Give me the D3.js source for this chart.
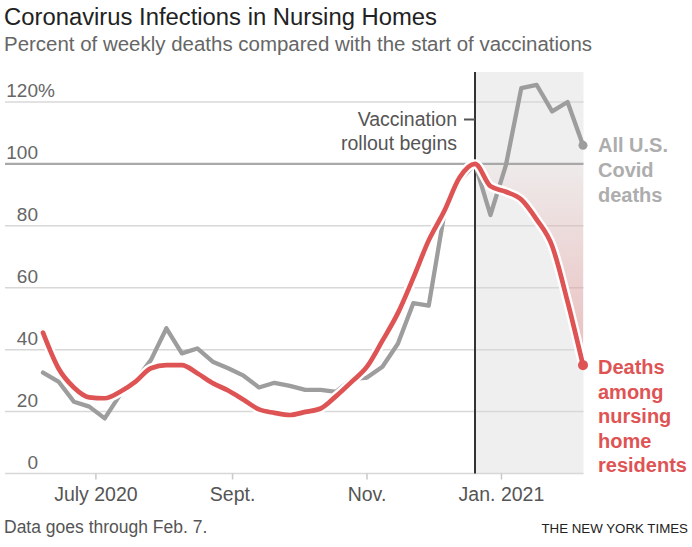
<!DOCTYPE html>
<html>
<head>
<meta charset="utf-8">
<script src="https://cdn.jsdelivr.net/npm/d3@7"></script>
<style>
  body { margin: 0; background: #fff; }
  svg { display: block; font-family: "Liberation Sans", Arial, Helvetica, sans-serif; }
</style>
</head>
<body>
<svg width="692" height="547"></svg>
<script>
// weekly data, percent of the week vaccinations started (Dec. 20 = 100)
const weeks = [
  "2020-06-07", "2020-06-14", "2020-06-21", "2020-06-28", "2020-07-05", "2020-07-12",
  "2020-07-19", "2020-07-26", "2020-08-02", "2020-08-09", "2020-08-16", "2020-08-23",
  "2020-08-30", "2020-09-06", "2020-09-13", "2020-09-20", "2020-09-27", "2020-10-04",
  "2020-10-11", "2020-10-18", "2020-10-25", "2020-11-01", "2020-11-08", "2020-11-15",
  "2020-11-22", "2020-11-29", "2020-12-06", "2020-12-13", "2020-12-20", "2020-12-27",
  "2021-01-03", "2021-01-10", "2021-01-17", "2021-01-24", "2021-01-31", "2021-02-07"
];
const allDeaths = [
  32.6, 29.7, 23.2, 21.6, 17.8, 25.5, 30, 36.7, 46.9, 38.8, 40.4, 36.1,
  34, 31.6, 27.8, 29.3, 28.3, 27, 27, 26.4, 30.5, 31, 34.5, 41.9,
  55, 54.2, 83.7, 94.6, 100, 83.5, 99.5, 124.5, 125.5, 117, 120, 106
];
const nursingDeaths = [
  45.5, 34, 27.8, 24.6, 24.3, 26.4, 29.7, 34, 35, 35, 32.4, 29.2,
  26.8, 23.8, 20.7, 19.6, 18.9, 19.9, 21, 25, 29.6, 34.5, 42.9, 51.8,
  63.2, 75.3, 84.7, 95.6, 100, 92.8, 91, 88.5, 82, 73.5, 55.5, 35
];
const yTicks = [0, 20, 40, 60, 80, 100, 120];
const xTicks = ["2020-07-01", "2020-09-01", "2020-11-01", "2021-01-01"];
const xTickLabels = ["July 2020", "Sept.", "Nov.", "Jan. 2021"];
const vaccineStart = "2020-12-20";
const allLabel = ["All U.S.", "Covid", "deaths"];
const nursingLabel = ["Deaths", "among", "nursing", "home", "residents"];

const parse = d3.timeParse("%Y-%m-%d");
const data = weeks.map((w, i) => ({date: parse(w), all: allDeaths[i], nursing: nursingDeaths[i]}));
const vDate = parse(vaccineStart);

const red = "#de5454", grey = "#9d9d9d";
const left = 5, right = 583.5;

const svg = d3.select("svg");

const x = d3.scaleTime()
  .domain(d3.extent(data, d => d.date))
  .range([43, 583]);
const y = d3.scaleLinear()
  .domain([0, 120])
  .range([473.5, 102]);

// title
svg.append("text")
  .attr("x", 4).attr("y", 25)
  .attr("font-size", "23.5px").attr("fill", "#222")
  .attr("textLength", 433).attr("lengthAdjust", "spacingAndGlyphs")
  .text("Coronavirus Infections in Nursing Homes");
svg.append("text")
  .attr("x", 4).attr("y", 51)
  .attr("font-size", "19.5px").attr("fill", "#666")
  .attr("textLength", 588).attr("lengthAdjust", "spacingAndGlyphs")
  .text("Percent of weekly deaths compared with the start of vaccinations");

// shaded period after vaccinations
svg.append("rect")
  .attr("x", x(vDate)).attr("y", 72)
  .attr("width", right - x(vDate)).attr("height", y(0) - 72)
  .attr("fill", "#efefef");

// gridlines
svg.append("g").selectAll("line")
  .data(yTicks)
  .join("line")
  .attr("x1", left).attr("x2", right)
  .attr("y1", d => y(d)).attr("y2", d => y(d))
  .attr("stroke", d => d === 100 ? "#a9a9a9" : "#d8d8d8")
  .attr("stroke-width", d => d === 100 ? 2.2 : 1.5);

// y labels
svg.append("g").selectAll("text")
  .data(yTicks)
  .join("text")
  .attr("x", 38).attr("y", d => y(d) - 5)
  .attr("text-anchor", "end")
  .attr("font-size", "19px").attr("fill", "#666")
  .text(d => d);
svg.append("text")
  .attr("x", 38).attr("y", y(120) - 5)
  .attr("font-size", "19px").attr("fill", "#666")
  .text("%");

// x ticks
const xt = svg.append("g").selectAll("g")
  .data(xTicks.map(parse))
  .join("g")
  .attr("transform", d => `translate(${x(d)},0)`);
xt.append("line")
  .attr("y1", y(0)).attr("y2", y(0) + 6)
  .attr("stroke", "#c8c8c8").attr("stroke-width", 1.5);
xt.append("text")
  .attr("y", 501)
  .attr("text-anchor", "middle")
  .attr("font-size", "19.5px").attr("fill", "#555")
  .text((d, i) => xTickLabels[i]);

// pink area between 100 and nursing home line after vaccinations
const grad = svg.append("defs").append("linearGradient")
  .attr("id", "pink")
  .attr("gradientUnits", "userSpaceOnUse")
  .attr("x1", 0).attr("x2", 0)
  .attr("y1", y(100)).attr("y2", y(35));
grad.append("stop").attr("offset", 0).attr("stop-color", "#de5454").attr("stop-opacity", 0.03);
grad.append("stop").attr("offset", 1).attr("stop-color", "#de5454").attr("stop-opacity", 0.32);

const after = data.filter(d => d.date >= vDate);
svg.append("path")
  .datum(after)
  .attr("d", d3.area().curve(d3.curveMonotoneX).x(d => x(d.date)).y0(y(100)).y1(d => y(d.nursing)))
  .attr("fill", "url(#pink)");

// vaccination line and note
svg.append("line")
  .attr("x1", x(vDate)).attr("x2", x(vDate))
  .attr("y1", 72).attr("y2", y(0))
  .attr("stroke", "#333").attr("stroke-width", 2);
svg.append("line")
  .attr("x1", x(vDate) - 11).attr("x2", x(vDate))
  .attr("y1", 119.5).attr("y2", 119.5)
  .attr("stroke", "#555").attr("stroke-width", 2);
svg.append("text")
  .attr("x", 457).attr("y", 126)
  .attr("text-anchor", "end")
  .attr("font-size", "19.5px").attr("fill", "#555")
  .selectAll("tspan")
  .data(["Vaccination", "rollout begins"])
  .join("tspan")
  .attr("x", 457).attr("dy", (d, i) => i ? 24 : 0)
  .text(d => d);

// lines
const lineAll = d3.line().x(d => x(d.date)).y(d => y(d.all));
const lineNursing = d3.line().curve(d3.curveMonotoneX).x(d => x(d.date)).y(d => y(d.nursing));

svg.append("path")
  .datum(data)
  .attr("d", lineAll)
  .attr("fill", "none").attr("stroke", grey)
  .attr("stroke-width", 4.3).attr("stroke-linejoin", "round").attr("stroke-linecap", "round");

svg.append("path")
  .datum(data)
  .attr("d", lineNursing)
  .attr("fill", "none").attr("stroke", "#fff")
  .attr("stroke-width", 9.5).attr("stroke-linejoin", "round").attr("stroke-linecap", "round");
svg.append("path")
  .datum(data)
  .attr("d", lineNursing)
  .attr("fill", "none").attr("stroke", red)
  .attr("stroke-width", 4.7).attr("stroke-linejoin", "round").attr("stroke-linecap", "round");

// end dots
const last = data[data.length - 1];
svg.append("circle")
  .attr("cx", x(last.date)).attr("cy", y(last.all)).attr("r", 4.5)
  .attr("fill", grey);
svg.append("circle")
  .attr("cx", x(last.date)).attr("cy", y(last.nursing)).attr("r", 5)
  .attr("fill", red);

// line labels
svg.append("text")
  .attr("font-size", "20px").attr("font-weight", "bold").attr("fill", "#adadad")
  .selectAll("tspan")
  .data(allLabel)
  .join("tspan")
  .attr("x", 598).attr("y", (d, i) => 152 + i * 25)
  .text(d => d);
svg.append("text")
  .attr("font-size", "20px").attr("font-weight", "bold").attr("fill", red)
  .selectAll("tspan")
  .data(nursingLabel)
  .join("tspan")
  .attr("x", 598).attr("y", (d, i) => 374 + i * 24.5)
  .text(d => d);

// footer
svg.append("text")
  .attr("x", 4).attr("y", 533)
  .attr("font-size", "17.5px").attr("fill", "#555")
  .text("Data goes through Feb. 7.");
svg.append("text")
  .attr("x", 688).attr("y", 533)
  .attr("text-anchor", "end")
  .attr("font-size", "13.3px").attr("fill", "#222")
  .text("THE NEW YORK TIMES");
</script>
</body>
</html>
